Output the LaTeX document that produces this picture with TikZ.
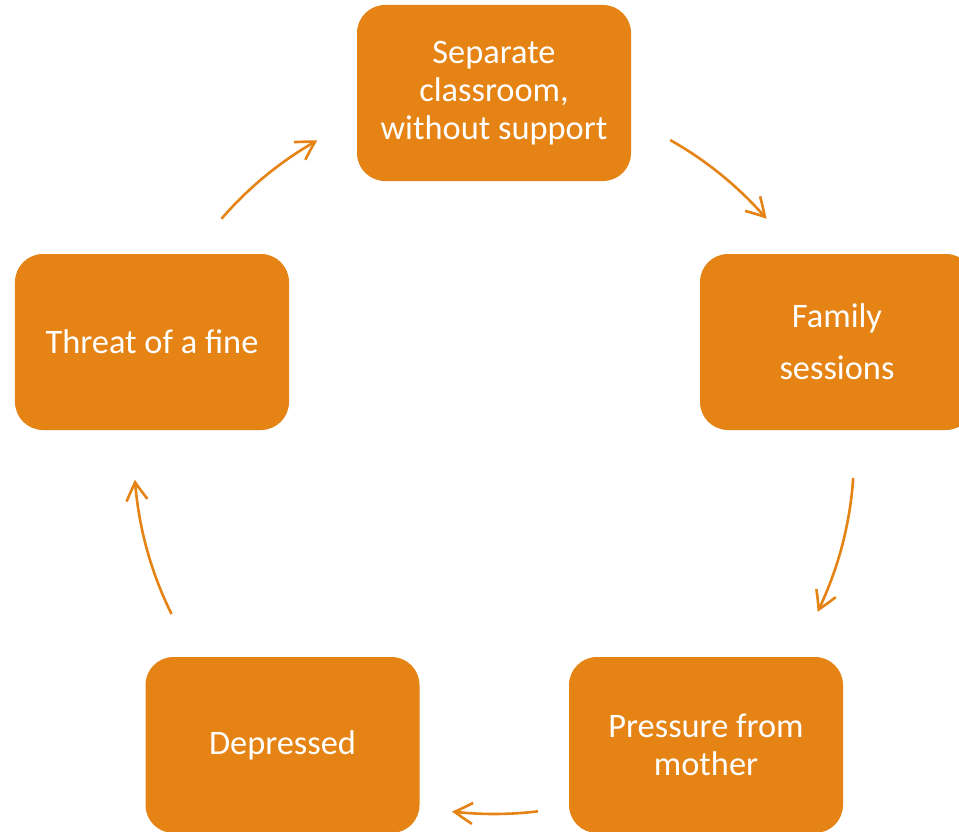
\documentclass[tikz,border=0pt]{standalone}
\usepackage{fontspec}
\setmainfont{Carlito}
\usetikzlibrary{arrows.meta,calc,bending}
\definecolor{boxorange}{RGB}{229,131,20}
\begin{document}
\begin{tikzpicture}[x=1bp,y=1bp]
\tikzset{
  stepbox/.style={rectangle, rounded corners=28bp, fill=boxorange, minimum width=274bp, minimum height=176bp, text=white, font=\fontsize{34.5}{38}\selectfont, align=center, inner sep=0pt},
  flow/.style={draw=boxorange, line width=2.6bp, -{Straight Barb[length=18bp,width=21bp,bend]}}
}
\useasboundingbox (0,0) rectangle (959,-832);
\node[stepbox] (sep) at (494,-93) {Separate\\classroom,\\without support};
\node[stepbox] (fam) at (837,-342) {Family\\[14bp]sessions};
\node[stepbox] (pres) at (706,-745) {Pressure from\\mother};
\node[stepbox] (dep) at (282.5,-745) {Depressed};
\node[stepbox] (thr) at (152,-342) {Threat of a fine};
\coordinate (c) at (494,-454);
\coordinate (a1) at ($(c)+(60.7:360)$);
\coordinate (a2) at ($(c)+(-3.8:360)$);
\coordinate (a3) at ($(c)+(-83:360)$);
\coordinate (a4) at ($(c)+(206.4:360)$);
\coordinate (a5) at ($(c)+(139.2:360)$);
\draw[flow] (a1) arc[start angle=60.7, end angle=40.8, radius=360bp];
\draw[flow] (a2) arc[start angle=-3.8, end angle=-26, radius=360bp];
\draw[flow] (a3) arc[start angle=-83, end angle=-96.7, radius=360bp];
\draw[flow] (a4) arc[start angle=206.4, end angle=184.1, radius=360bp];
\draw[flow] (a5) arc[start angle=139.2, end angle=119.4, radius=360bp];
\end{tikzpicture}
\end{document}
